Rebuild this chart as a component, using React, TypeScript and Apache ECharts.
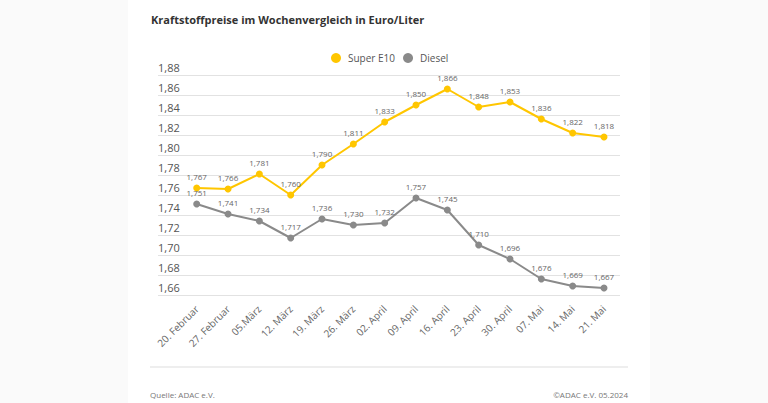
import React, { useEffect, useRef } from "react";
import * as echarts from "echarts";

const categories = [
  "20. Februar", "27. Februar", "05.März", "12. März", "19. März", "26. März", "02. April",
  "09. April", "16. April", "23. April", "30. April", "07. Mai", "14. Mai", "21. Mai",
];
const superE10 = [1.767, 1.766, 1.781, 1.76, 1.79, 1.811, 1.833, 1.85, 1.866, 1.848, 1.853, 1.836, 1.822, 1.818];
const diesel = [1.751, 1.741, 1.734, 1.717, 1.736, 1.73, 1.732, 1.757, 1.745, 1.71, 1.696, 1.676, 1.669, 1.667];
const yMin = 1.66;
const yMax = 1.88;
const yStep = 0.02;

const FONT = "'Open Sans', 'Noto Sans', sans-serif";
const YELLOW = "#FFC600";
const GREY = "#8A8A8A";

export default function App() {
  const ref = useRef<HTMLDivElement>(null);
  useEffect(() => {
    if (!ref.current) return;
    const chart = echarts.init(ref.current, null, { renderer: "svg" });
    const top = 75;
    const bottom = 108;
    const lbl = (v: number) => v.toFixed(3).replace(".", ",");
    chart.setOption({
      animation: false,
      backgroundColor: "#fafafa",
      textStyle: { fontFamily: FONT },
      title: {
        text: "Kraftstoffpreise im Wochenvergleich in Euro/Liter",
        left: 146,
        top: 9,
        textStyle: { fontSize: 11, fontWeight: "bold", color: "#333", fontFamily: FONT },
      },
      legend: {
        data: ["Super E10", "Diesel"],
        left: 326,
        top: 48,
        icon: "circle",
        itemWidth: 10,
        itemHeight: 10,
        itemGap: 8,
        textStyle: { fontSize: 10, color: "#555", fontFamily: FONT, padding: [0, 0, 0, 2] },
      },
      graphic: [
        { type: "rect", z: -10, shape: { x: 128, y: 0, width: 522, height: 403 }, style: { fill: "#ffffff" } },
        { type: "line", shape: { x1: 150, y1: 367, x2: 628, y2: 367 }, style: { stroke: "#dddddd", lineWidth: 1 } },
        { type: "text", x: 150, y: 394, style: { text: "Quelle: ADAC e.V.", fontSize: 8, fill: "#777", fontFamily: FONT, verticalAlign: "middle" } },
        { type: "text", x: 628, y: 394, style: { text: "©ADAC e.V. 05.2024", fontSize: 8, fill: "#777", fontFamily: FONT, align: "right", verticalAlign: "middle" } },
      ],
      grid: [
        { left: 158, right: 148, top, bottom },
        { left: 196.7, right: 164, top, bottom },
      ],
      xAxis: [
        { gridIndex: 0, type: "category", data: categories, show: false },
        {
          gridIndex: 1,
          type: "category",
          data: categories,
          boundaryGap: false,
          axisLine: { show: false },
          axisTick: { show: false },
          axisLabel: { rotate: 45, fontSize: 10, color: "#666", margin: 12, interval: 0, fontFamily: FONT },
        },
      ],
      yAxis: [
        {
          gridIndex: 0,
          type: "value",
          min: yMin,
          max: yMax,
          interval: yStep,
          axisLine: { show: false },
          axisTick: { show: false },
          splitLine: { lineStyle: { color: "#e2e2e2", width: 1 } },
          axisLabel: {
            inside: true,
            align: "left",
            verticalAlign: "bottom",
            margin: 0,
            padding: [0, 0, 2, 0],
            fontSize: 11,
            color: "#555",
            fontFamily: FONT,
            formatter: (v: number) => v.toFixed(2).replace(".", ","),
          },
        },
        { gridIndex: 1, type: "value", min: yMin, max: yMax, interval: yStep, show: false, splitLine: { show: false } },
      ],
      series: [
        {
          name: "Super E10",
          type: "line",
          xAxisIndex: 1,
          yAxisIndex: 1,
          data: superE10,
          color: YELLOW,
          lineStyle: { width: 2 },
          symbol: "circle",
          symbolSize: 7,
          label: { show: true, position: "top", distance: 4, fontSize: 8, color: "#666", formatter: (p: any) => lbl(p.value) },
        },
        {
          name: "Diesel",
          type: "line",
          xAxisIndex: 1,
          yAxisIndex: 1,
          data: diesel,
          color: GREY,
          lineStyle: { width: 2 },
          symbol: "circle",
          symbolSize: 7,
          label: { show: true, position: "top", distance: 4, fontSize: 8, color: "#666", formatter: (p: any) => lbl(p.value) },
        },
      ],
    });
    return () => chart.dispose();
  }, []);
  return <div ref={ref} style={{ position: "absolute", left: 0, top: 0, width: 768, height: 403 }} />;
}
